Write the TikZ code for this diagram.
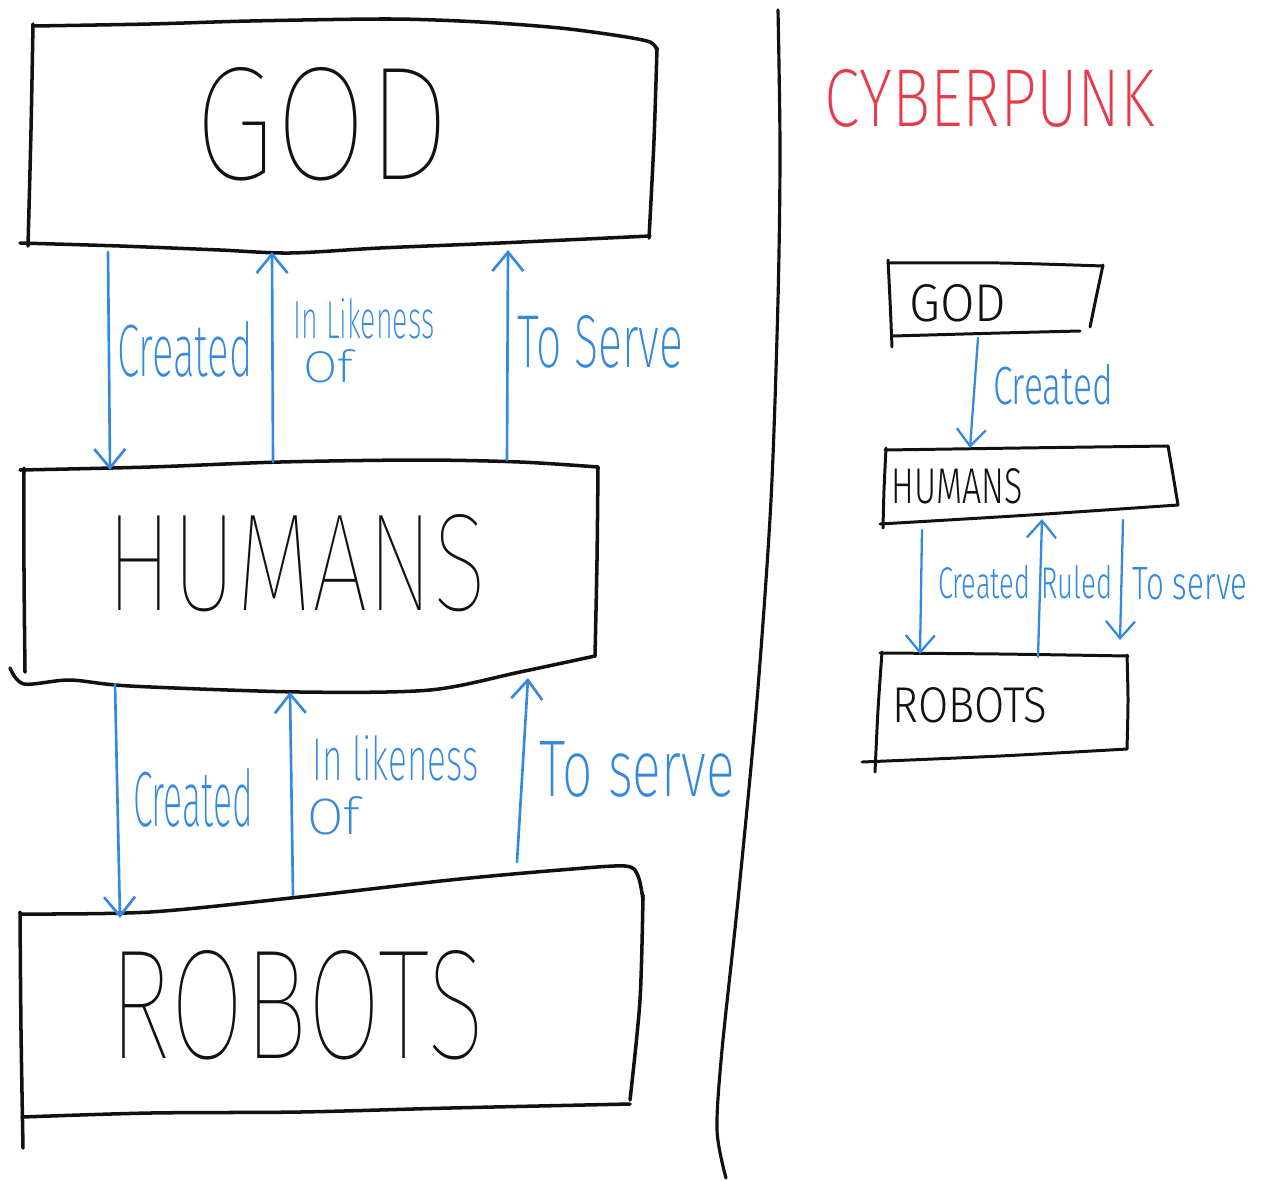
\documentclass[tikz,border=0pt]{standalone}
\usepackage{fontspec}
\usepackage{graphicx}
\usetikzlibrary{arrows.meta}

% light sans weights for the lettering, with a safe fallback
\newcommand\pickfont[2]{\IfFontExistsTF{#2}{\newfontfamily#1{#2}}{\newfontfamily#1{Liberation Sans}}}
\pickfont\handxl{Fira Sans ExtraLight}
\pickfont\handl{Fira Sans Light}
\IfFontExistsTF{Fira Sans Thin}{\newfontfamily\handt{Fira Sans Thin}}{\let\handt\handxl}

\definecolor{inkblue}{RGB}{52,136,222}
\definecolor{inkred}{RGB}{232,58,74}
\definecolor{ink}{RGB}{17,17,17}

\newlength\px
\setlength\px{0.02cm}
% lettering squeezed into a box of given width and height (in px)
\newcommand\hw[3]{\resizebox{#1\px}{#2\px}{#3}}

\tikzset{
  outline/.style={draw=ink, line width=2pt, line cap=round, line join=round},
  smalloutline/.style={draw=ink, line width=1.7pt, line cap=round, line join=round},
  divider/.style={draw=ink, line width=1.8pt, line cap=round},
  arr/.style={draw=inkblue, line width=1.5pt, line cap=round,
    -{Straight Barb[length=0.38cm,width=0.62cm,line width=1.5pt]}},
  smallarr/.style={draw=inkblue, line width=1.3pt, line cap=round,
    -{Straight Barb[length=0.34cm,width=0.58cm,line width=1.3pt]}},
  bigtext/.style={inner sep=0pt, text=ink, font=\handt},
  smalltext/.style={inner sep=0pt, text=ink, font=\handl},
  lbl/.style={inner sep=0pt, text=inkblue, font=\handxl},
  smalllbl/.style={inner sep=0pt, text=inkblue, font=\handl},
}

\begin{document}
\begin{tikzpicture}[x=0.02cm, y=-0.02cm]
\fill[white] (0,0) rectangle (1263,1180);
\useasboundingbox (0,0) rectangle (1263,1180);

% ---------- left column: big boxes ----------
% GOD
\draw[outline] plot[smooth] coordinates {(33,26) (150,24) (250,21) (390,19) (480,22) (560,28) (620,36) (650,42) (657,50)};
\draw[outline] plot[smooth] coordinates {(33,24) (31,130) (28,246)};
\draw[outline] plot[smooth] coordinates {(657,48) (654,140) (649,238)};
\draw[outline] plot[smooth] coordinates {(20,243) (120,246) (220,250) (290,253) (380,248) (500,243) (650,236)};
\node[bigtext] (godT) at (322,124) {\hw{255}{112}{GOD}};

% HUMANS
\draw[outline] plot[smooth] coordinates {(20,470) (150,467) (280,462) (420,460) (520,462) (598,467)};
\draw[outline] plot[smooth] coordinates {(598,467) (597,560) (595,656)};
\draw[outline] plot[smooth] coordinates {(24,468) (24,570) (25,672)};
\draw[outline] plot[smooth] coordinates {(10,668) (24,684) (70,680) (130,686) (300,692) (430,690) (520,672) (595,656)};
\node[bigtext] (humT) at (297,563) {\hw{380}{96}{HUMANS}};

% ROBOTS
\draw[outline] plot[smooth] coordinates {(22,914) (150,912) (300,897) (450,880) (560,870) (625,866) (638,876) (643,900)};
\draw[outline] plot[smooth] coordinates {(643,895) (640,1000) (630,1100)};
\draw[outline] plot[smooth] coordinates {(22,1117) (150,1113) (300,1112) (450,1108) (630,1104)};
\draw[outline] plot[smooth] coordinates {(20,912) (21,1030) (23,1148)};
\node[bigtext] (robT) at (297,1005) {\hw{375}{108}{ROBOTS}};

% ---------- left column: arrows ----------
\coordinate (a1s) at (108,252);  \coordinate (a1e) at (110,470);
\coordinate (a2s) at (273,462);  \coordinate (a2e) at (272,252);
\coordinate (a3s) at (507,460);  \coordinate (a3e) at (508,250);
\coordinate (a4s) at (115,684);  \coordinate (a4e) at (120,918);
\coordinate (a5s) at (293,895);  \coordinate (a5e) at (290,692);
\coordinate (a6s) at (517,862);  \coordinate (a6e) at (528,678);
\draw[arr] (a1s) -- (a1e);
\draw[arr] (a2s) -- (a2e);
\draw[arr] (a3s) -- (a3e);
\draw[arr] (a4s) -- (a4e);
\draw[arr] (a5s) -- (a5e);
\draw[arr] (a6s) -- (a6e);

\node[lbl] (l1) at (185,349) {\hw{135}{55}{Created}};
\node[lbl, anchor=north west, align=left] (l2) at (293,298)
  {\hw{141}{40}{In Likeness}\\[5pt]\hspace*{10\px}\hw{50}{33}{Of}};
\node[lbl] (l3) at (600,342) {\hw{166}{52}{To Serve}};
\node[lbl] (l4) at (193,798) {\hw{120}{58}{Created}};
\node[lbl, anchor=north west, align=left] (l5) at (307,735)
  {\hspace*{5\px}\hw{166}{45}{In likeness}\\[8pt]\hw{53}{38}{Of}};
\node[lbl] (l6) at (637,769) {\hw{195}{55}{To serve}};

% ---------- divider ----------
\draw[divider] plot[smooth] coordinates {(778,10) (780,150) (778,300) (771,500) (757,700) (738,900) (722,1050) (717,1130) (726,1178)};

% ---------- right column ----------
\node[inner sep=0pt, text=inkred, font=\handxl] (cyber) at (990,98) {\hw{330}{57}{CYBERPUNK}};

% small GOD
\draw[smalloutline] plot[smooth] coordinates {(888,263) (1000,263) (1103,266)};
\draw[smalloutline] plot[smooth] coordinates {(1103,265) (1096,298) (1090,327)};
\draw[smalloutline] plot[smooth] coordinates {(893,336) (1000,333) (1080,331)};
\draw[smalloutline] plot[smooth] coordinates {(888,260) (890,300) (892,347)};
\node[smalltext] (godS) at (958,303) {\hw{97}{37}{GOD}};

% small HUMANS
\draw[smalloutline] plot[smooth] coordinates {(885,450) (1020,448) (1168,446)};
\draw[smalloutline] plot[smooth] coordinates {(1168,446) (1173,475) (1178,505)};
\draw[smalloutline] plot[smooth] coordinates {(880,524) (1030,515) (1178,505)};
\draw[smalloutline] plot[smooth] coordinates {(886,448) (884,490) (883,528)};
\node[smalltext] (humS) at (957,486) {\hw{131}{35}{HUMANS}};

% small ROBOTS
\draw[smalloutline] plot[smooth] coordinates {(880,653) (1000,654) (1128,656)};
\draw[smalloutline] plot[smooth] coordinates {(1127,655) (1128,700) (1127,749)};
\draw[smalloutline] plot[smooth] coordinates {(862,762) (1000,756) (1127,749)};
\draw[smalloutline] plot[smooth] coordinates {(882,652) (878,710) (875,772)};
\node[smalltext] (robS) at (970,705) {\hw{155}{35}{ROBOTS}};

% small arrows
\coordinate (b1s) at (978,338);  \coordinate (b1e) at (970,448);
\coordinate (b2s) at (922,530);  \coordinate (b2e) at (920,654);
\coordinate (b3s) at (1038,657); \coordinate (b3e) at (1042,519);
\coordinate (b4s) at (1123,520); \coordinate (b4e) at (1120,640);
\draw[smallarr] (b1s) -- (b1e);
\draw[smallarr] (b2s) -- (b2e);
\draw[smallarr] (b3s) -- (b3e);
\draw[smallarr] (b4s) -- (b4e);

\node[smalllbl] (m1) at (1053,385) {\hw{120}{40}{Created}};
\node[smalllbl] (m2) at (984,582) {\hw{92}{33}{Created}};
\node[smalllbl] (m3) at (1077,582) {\hw{71}{33}{Ruled}};
\node[smalllbl] (m4) at (1190,584) {\hw{115}{32}{To serve}};
\end{tikzpicture}
\end{document}
